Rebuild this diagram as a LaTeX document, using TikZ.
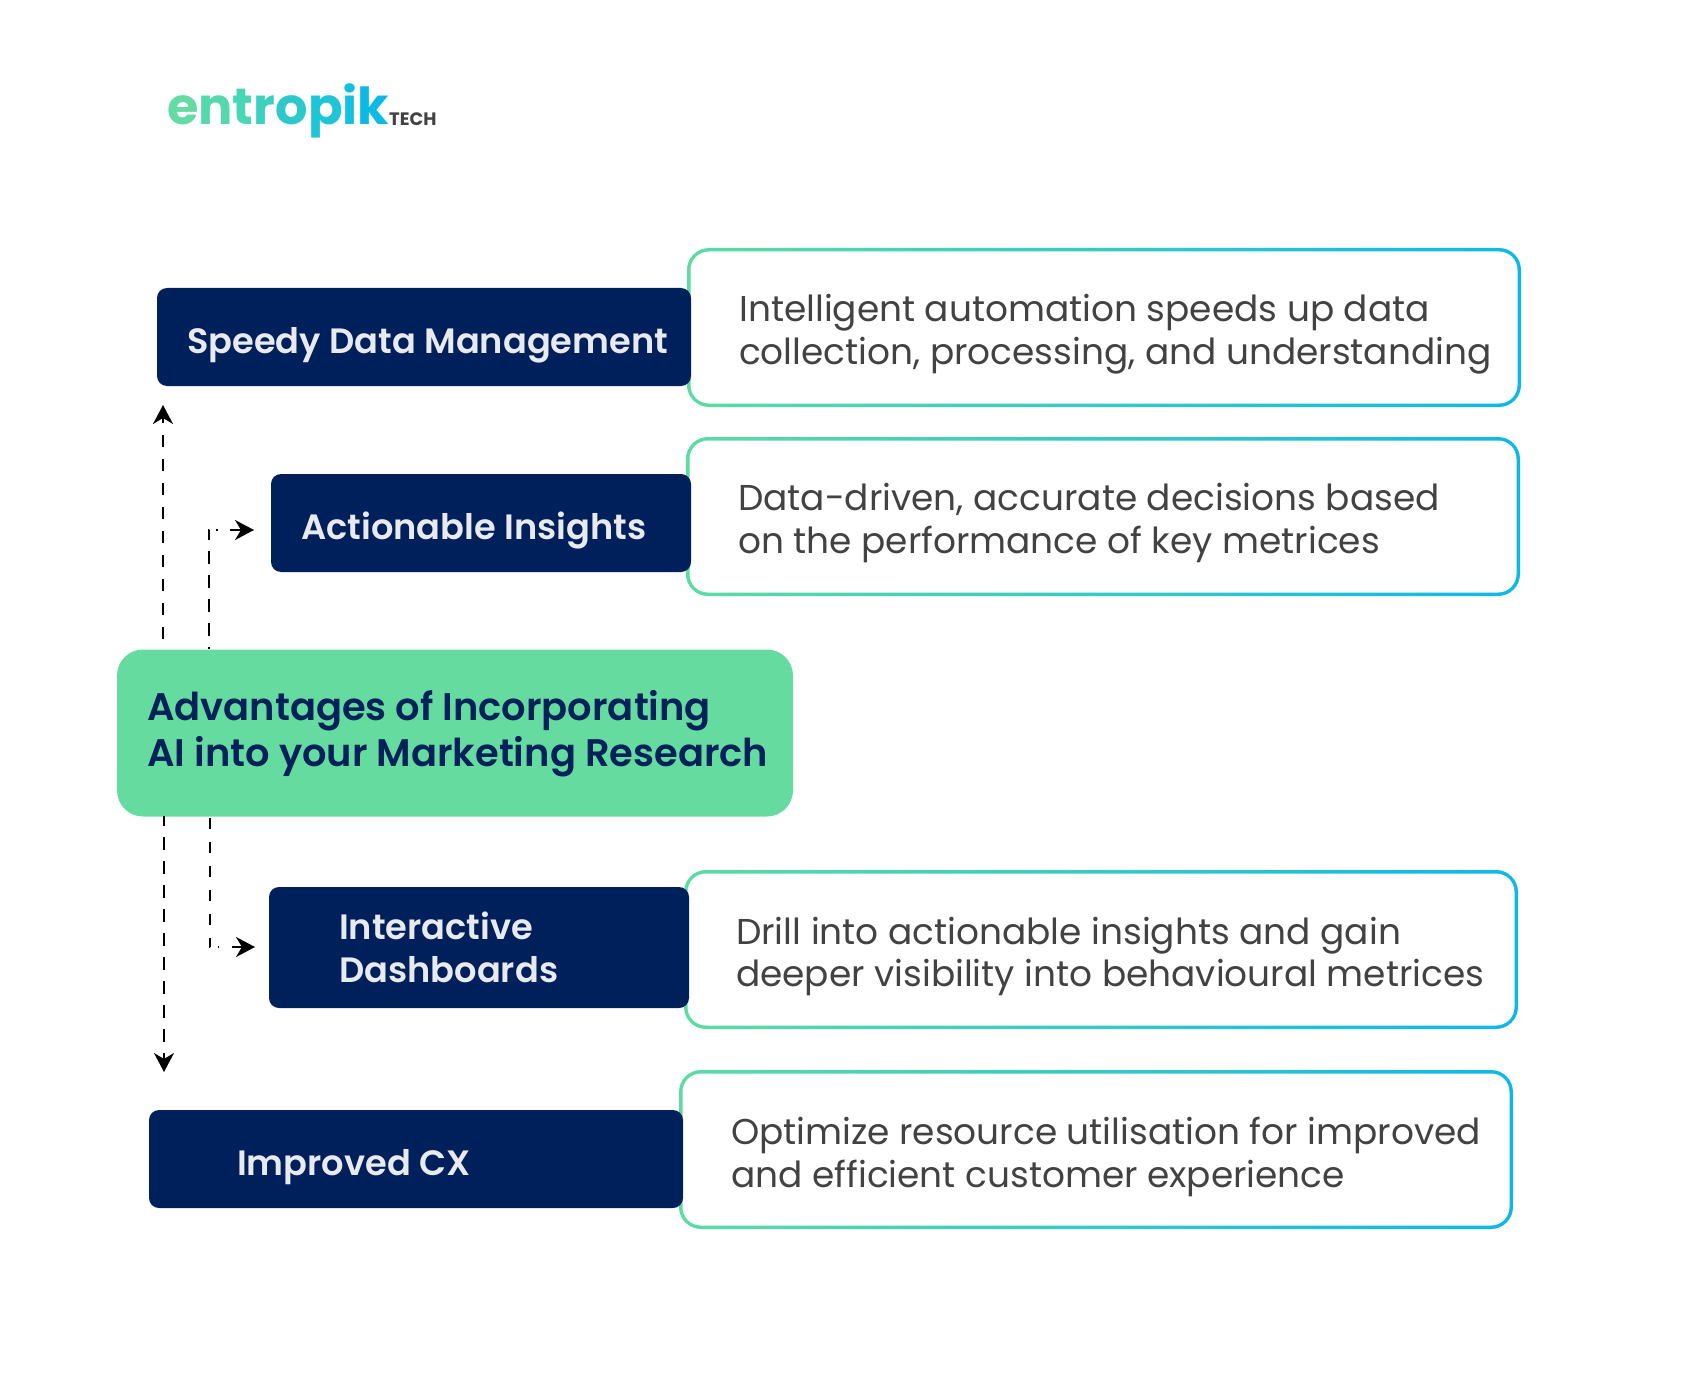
\documentclass[tikz,border=0pt]{standalone}
\usepackage{fontspec}
\usetikzlibrary{arrows.meta}
\setmainfont{Poppins}
\newfontfamily\psemi[UprightFont=* SemiBold]{Poppins}
\newfontfamily\pbold[UprightFont=* Bold]{Poppins}
\definecolor{navy}{HTML}{00205B}
\definecolor{mint}{HTML}{66DBA0}
\definecolor{gradA}{HTML}{5CDCA3}
\definecolor{gradB}{HTML}{0DB8E8}
\definecolor{bodygray}{HTML}{424242}
\definecolor{pale}{HTML}{E8EAEE}
\definecolor{titlenavy}{HTML}{002159}
\tikzset{
  navybox/.style={fill=navy,rounded corners=10pt,inner sep=0pt},
  gradbox/.style={left color=gradA,right color=gradB,rounded corners=22pt,inner sep=0pt},
  innerbox/.style={fill=white,rounded corners=18.5pt,inner sep=0pt},
  hub/.style={fill=mint,rounded corners=26pt,inner sep=0pt},
  bodytext/.style={anchor=west,align=left,inner sep=0pt,text=bodygray,font=\fontsize{35.9}{43}\selectfont},
  navytext/.style={anchor=west,align=left,inner sep=0pt,text=pale,font=\psemi\fontsize{35.2}{42.5}\selectfont},
  hubtext/.style={anchor=west,align=left,inner sep=0pt,text=titlenavy,font=\psemi\fontsize{38.4}{46}\selectfont},
  flow/.style={draw=black,line width=2pt,-{Stealth[length=19pt,width=20pt,inset=6pt]}}
}
\begin{document}
\begin{tikzpicture}[x=1pt,y=-1pt]
\useasboundingbox (0,0) rectangle (1701,1375);
% logo
\node (logo) [anchor=base west,inner sep=0pt,font=\pbold\fontsize{51}{51}\selectfont] at (167,125)
  {\textcolor[HTML]{63DBA3}{e}\textcolor[HTML]{55D9AC}{n}\textcolor[HTML]{48D6B5}{t}\textcolor[HTML]{3CD0BF}{r}\textcolor[HTML]{2DC9CA}{o}\textcolor[HTML]{1FC4D6}{p}\textcolor[HTML]{14BFDF}{i}\textcolor[HTML]{0DBAE5}{k}};
\node (logotech) [anchor=base west,inner sep=0pt,text=bodygray,font=\pbold\fontsize{18}{18}\selectfont] at (389,126) {TECH};
% right outlined boxes
\node (o1) [gradbox,minimum width=834pt,minimum height=159pt] at (1104,327.5) {};
\node (i1) [innerbox,minimum width=827pt,minimum height=152pt] at (o1.center) {};
\node (o2) [gradbox,minimum width=834pt,minimum height=159pt] at (1103,516.5) {};
\node (i2) [innerbox,minimum width=827pt,minimum height=152pt] at (o2.center) {};
\node (o3) [gradbox,minimum width=834pt,minimum height=159pt] at (1101,949.5) {};
\node (i3) [innerbox,minimum width=827pt,minimum height=152pt] at (o3.center) {};
\node (o4) [gradbox,minimum width=834pt,minimum height=159pt] at (1096,1149.5) {};
\node (i4) [innerbox,minimum width=827pt,minimum height=152pt] at (o4.center) {};
% navy boxes
\node (n1) [navybox,minimum width=534pt,minimum height=98pt] at (424,337) {};
\node (n2) [navybox,minimum width=420pt,minimum height=98pt] at (481,523) {};
\node (n3) [navybox,minimum width=420pt,minimum height=121pt] at (479,947.5) {};
\node (n4) [navybox,minimum width=534pt,minimum height=98pt] at (416,1159) {};
% hub
\node (hub) [hub,minimum width=676pt,minimum height=167pt] at (455,733) {};
% labels
\node (t1) [navytext] at (187,345) {Speedy Data Management};
\node (t2) [navytext] at (301,530.5) {Actionable Insights};
\node (t3) [navytext] at (339,947.5) {Interactive\\Dashboards};
\node (t4) [navytext] at (237,1167) {Improved CX};
\node (th) [hubtext] at (147,734) {Advantages of Incorporating\\AI into your Marketing Research};
\node (b1) [bodytext] at (739,334) {Intelligent automation speeds up data\\collection, processing, and understanding};
\node (b2) [bodytext] at (738,523) {Data-driven, accurate decisions based\\on the performance of key metrices};
\node (b3) [bodytext] at (736,956.5) {Drill into actionable insights and gain\\deeper visibility into behavioural metrices};
\node (b4) [bodytext] at (731,1156.5) {Optimize resource utilisation for improved\\and efficient customer experience};
% connectors
\coordinate (upA) at (163,649);
\coordinate (upEnd) at (163,405);
\coordinate (dnA) at (164,816);
\coordinate (dnEnd) at (164,1072);
\coordinate (inA) at (209,649);
\coordinate (inB) at (209,530);
\coordinate (inEnd) at (254,530);
\coordinate (loA) at (210,816);
\coordinate (loB) at (210,947);
\coordinate (loEnd) at (255,947);
\draw[flow,dash pattern=on 12.5pt off 11.5pt,dash phase=14pt] (upA) -- (upEnd);
\draw[flow,dash pattern=on 12.5pt off 11.5pt,dash phase=3pt] (dnA) -- (dnEnd);
\draw[flow,dash pattern=on 2pt off 11pt on 13pt off 11pt on 13pt off 11pt on 13pt off 11pt on 13pt off 11pt on 10pt off 7pt on 2pt off 12pt on 60pt] (inA) -- (inB) -- (inEnd);
\draw[flow,dash pattern=on 0pt off 2.3pt on 11pt off 13pt on 11pt off 13pt on 11pt off 13pt on 11pt off 13pt on 11pt off 13pt on 8.7pt off 7.5pt on 1.5pt off 12.5pt on 60pt] (loA) -- (loB) -- (loEnd);
\end{tikzpicture}
\end{document}
